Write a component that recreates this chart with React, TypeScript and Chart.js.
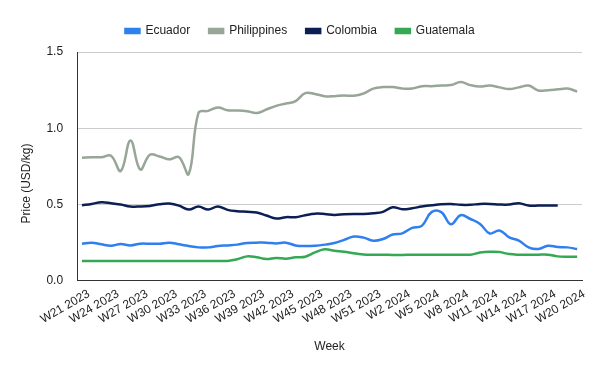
import { useEffect, useRef } from 'react';
import { Chart, registerables } from 'chart.js';

Chart.register(...registerables);

const weeks = [
  'W21 2023', 'W22 2023', 'W23 2023', 'W24 2023', 'W25 2023', 'W26 2023', 'W27 2023', 'W28 2023',
  'W29 2023', 'W30 2023', 'W31 2023', 'W32 2023', 'W33 2023', 'W34 2023', 'W35 2023', 'W36 2023',
  'W37 2023', 'W38 2023', 'W39 2023', 'W40 2023', 'W41 2023', 'W42 2023', 'W43 2023', 'W44 2023',
  'W45 2023', 'W46 2023', 'W47 2023', 'W48 2023', 'W49 2023', 'W50 2023', 'W51 2023', 'W52 2023',
  'W1 2024', 'W2 2024', 'W3 2024', 'W4 2024', 'W5 2024', 'W6 2024', 'W7 2024', 'W8 2024',
  'W9 2024', 'W10 2024', 'W11 2024', 'W12 2024', 'W13 2024', 'W14 2024', 'W15 2024', 'W16 2024',
  'W17 2024', 'W18 2024', 'W19 2024', 'W20 2024',
];

const ecuador = [
  0.243, 0.25, 0.239, 0.23, 0.241, 0.232, 0.243, 0.243, 0.243, 0.25, 0.239, 0.228, 0.219,
  0.219, 0.228, 0.232, 0.237, 0.248, 0.25, 0.25, 0.245, 0.25, 0.232, 0.228, 0.23, 0.237,
  0.248, 0.268, 0.29, 0.283, 0.263, 0.274, 0.303, 0.311, 0.347, 0.36, 0.45, 0.45, 0.37,
  0.43, 0.405, 0.373, 0.31, 0.33, 0.285, 0.263, 0.219, 0.208, 0.23, 0.221, 0.219, 0.208,
];

const philippines = [
  0.807, 0.81, 0.81, 0.82, 0.72, 0.92, 0.73, 0.826, 0.815, 0.796, 0.81, 0.7, 1.1,
  1.114, 1.136, 1.118, 1.117, 1.112, 1.1, 1.123, 1.147, 1.162, 1.178, 1.23, 1.225, 1.21,
  1.21, 1.215, 1.213, 1.228, 1.26, 1.27, 1.27, 1.26, 1.26, 1.276, 1.276, 1.28, 1.283,
  1.303, 1.283, 1.273, 1.28, 1.268, 1.257, 1.268, 1.28, 1.248, 1.25, 1.255, 1.26, 1.241,
];

const colombia = [
  0.495, 0.504, 0.515, 0.509, 0.5, 0.487, 0.487, 0.491, 0.502, 0.506, 0.493, 0.467, 0.487,
  0.467, 0.487, 0.465, 0.456, 0.452, 0.447, 0.428, 0.408, 0.417, 0.417, 0.43, 0.44, 0.438,
  0.432, 0.436, 0.438, 0.438, 0.443, 0.452, 0.482, 0.469, 0.475, 0.487, 0.495, 0.502, 0.504,
  0.498, 0.498, 0.504, 0.504, 0.5, 0.5, 0.509, 0.493, 0.493, 0.493, 0.493, null, null,
];

const guatemala = [
  0.13, 0.13, 0.13, 0.13, 0.13, 0.13, 0.13, 0.13, 0.13, 0.13, 0.13, 0.13, 0.13,
  0.13, 0.13, 0.13, 0.141, 0.16, 0.154, 0.143, 0.15, 0.145, 0.154, 0.158, 0.186, 0.206,
  0.197, 0.191, 0.18, 0.173, 0.171, 0.171, 0.169, 0.169, 0.171, 0.171, 0.171, 0.171, 0.171,
  0.171, 0.171, 0.185, 0.19, 0.188, 0.175, 0.171, 0.171, 0.171, 0.171, 0.16, 0.158, 0.158,
];

const seriesNames = ['Ecuador', 'Philippines', 'Colombia', 'Guatemala'];
const seriesColors = ['#2f7fef', '#97a697', '#0c1f55', '#34a853'];
const yTicks = [0, 0.5, 1.0, 1.5];
const yTitle = 'Price (USD/kg)';
const xTitle = 'Week';

const FONT = "Arial, 'Liberation Sans', sans-serif";
const TEXT = '#222222';

export default function App() {
  const ref = useRef<HTMLCanvasElement>(null);

  useEffect(() => {
    if (!ref.current) return;

    const legendFit = {
      id: 'legendFit',
      beforeInit(chart: any) {
        const legend = chart.legend;
        if (!legend) return;
        const orig = legend.fit;
        legend.fit = function () {
          orig.call(legend);
          legend.height = 46;
        };
      },
    };

    const yTitlePlugin = {
      id: 'yTitlePlugin',
      afterDraw(chart: any) {
        const ctx = chart.ctx;
        ctx.save();
        ctx.translate(27, chart.height / 2 - 2);
        ctx.rotate(-Math.PI / 2);
        ctx.textAlign = 'center';
        ctx.textBaseline = 'middle';
        ctx.font = `12px ${FONT}`;
        ctx.fillStyle = TEXT;
        ctx.fillText(yTitle, 0, 0);
        ctx.restore();
      },
    };

    const allData = [ecuador, philippines, colombia, guatemala];
    const chart = new Chart(ref.current, {
      type: 'line',
      data: {
        labels: weeks,
        datasets: seriesNames.map((name, i) => ({
          label: name,
          data: allData[i],
          borderColor: seriesColors[i],
          backgroundColor: seriesColors[i],
          borderWidth: 2.5,
          pointRadius: 0,
          pointHoverRadius: 0,
          tension: 0.4,
          fill: false,
          spanGaps: false,
        })),
      },
      options: {
        responsive: false,
        animation: false,
        layout: { padding: { top: 6, right: 0, bottom: 3, left: 0 } },
        plugins: {
          legend: {
            position: 'top',
            align: 'center',
            labels: {
              boxWidth: 14,
              boxHeight: 4,
              padding: 19,
              color: TEXT,
              font: { family: FONT, size: 12 },
            },
          },
          tooltip: { enabled: false },
        },
        scales: {
          x: {
            type: 'category',
            offset: true,
            grid: { display: true, drawOnChartArea: false, drawTicks: false },
            border: { display: true, color: '#333333', width: 1 },
            afterFit: (scale: any) => {
              scale.paddingRight = 18;
            },
            ticks: {
              autoSkip: false,
              maxRotation: 30,
              minRotation: 30,
              padding: 6,
              labelOffset: 7,
              color: TEXT,
              font: { family: FONT, size: 12 },
              callback: function (this: any, value: any, index: number) {
                return index % 3 === 0 ? this.getLabelForValue(value) : '';
              },
            },
            title: {
              display: true,
              text: xTitle,
              color: TEXT,
              font: { family: FONT, size: 12 },
              padding: { top: 7, bottom: 14 },
            },
          },
          y: {
            type: 'linear',
            min: yTicks[0],
            max: yTicks[yTicks.length - 1],
            grid: { color: '#cccccc', drawTicks: false },
            border: { display: true, color: '#333333', width: 1 },
            afterBuildTicks: (scale: any) => {
              scale.ticks = yTicks.map((v) => ({ value: v }));
            },
            ticks: {
              padding: 14,
              color: TEXT,
              font: { family: FONT, size: 12 },
              callback: (v: any) => Number(v).toFixed(1),
            },
            title: {
              display: true,
              text: yTitle,
              color: 'rgba(0,0,0,0)',
              font: { family: FONT, size: 12 },
              padding: { top: 18, bottom: 0 },
            },
          },
        },
      },
      plugins: [legendFit, yTitlePlugin],
    });
    return () => chart.destroy();
  }, []);

  return (
    <div style={{ position: 'absolute', left: 0, top: 0, width: 600, height: 371, background: '#fff' }}>
      <canvas ref={ref} width={600} height={371} style={{ display: 'block' }} />
    </div>
  );
}
